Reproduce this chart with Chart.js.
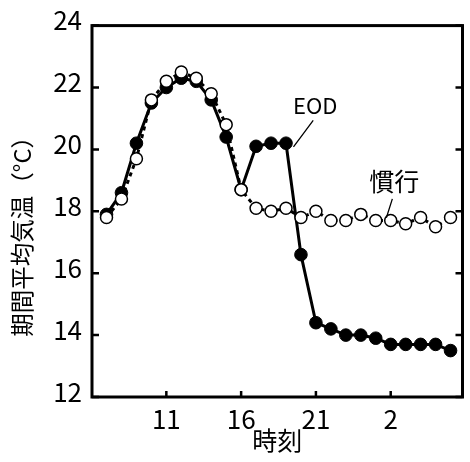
<!DOCTYPE html>
<html lang="ja">
<head>
<meta charset="utf-8">
<script src="https://cdn.jsdelivr.net/npm/chart.js@4.4.1/dist/chart.umd.min.js"></script>
<style>
  html, body { margin: 0; padding: 0; background: #fff; }
  #wrap { width: 470px; height: 462px; }
</style>
</head>
<body>
<div id="wrap"><canvas id="c" width="470" height="462"></canvas></div>
<script>
// Hour of day for each hourly mean (7 o'clock through 6 o'clock next morning)
const hours = [7, 8, 9, 10, 11, 12, 13, 14, 15, 16, 17, 18, 19, 20, 21, 22, 23, 0, 1, 2, 3, 4, 5, 6];
// Period-mean air temperature (°C), end-of-day treatment
const eodTemp = [17.9, 18.6, 20.2, 21.5, 22.0, 22.3, 22.2, 21.6, 20.4, 18.7, 20.1, 20.2, 20.2,
                 16.6, 14.4, 14.2, 14.0, 14.0, 13.9, 13.7, 13.7, 13.7, 13.7, 13.5];
// Period-mean air temperature (°C), conventional management
const conventionalTemp = [17.8, 18.4, 19.7, 21.6, 22.2, 22.5, 22.3, 21.8, 20.8, 18.7, 18.1, 18.0, 18.1,
                          17.8, 18.0, 17.7, 17.7, 17.9, 17.7, 17.7, 17.6, 17.8, 17.5, 17.8];
// Labelled hours on the time axis
const xTickHours = [11, 16, 21, 2];
// Temperature axis ticks
const yTicks = [12, 14, 16, 18, 20, 22, 24];

const yTitle = '期間平均気温（°C）';
const xTitle = '時刻';

const numFont = "'Noto Sans CJK JP', sans-serif";
const jpFont = "'Noto Sans CJK JP', sans-serif";

const toPoints = arr => arr.map((v, i) => ({ x: i, y: v }));

// Box frame, inward tick marks, the temperature-axis title and the series call-outs
const framePlugin = {
  id: 'frame',
  afterDraw(chart) {
    const { ctx, chartArea: a, scales: { x, y } } = chart;
    ctx.save();
    ctx.strokeStyle = '#000';
    ctx.lineWidth = 3;
    ctx.strokeRect(a.left, a.top, a.right - a.left, a.bottom - a.top);
    ctx.lineWidth = 2.5;
    ctx.beginPath();
    y.ticks.forEach(t => {
      const py = y.getPixelForValue(t.value);
      ctx.moveTo(a.left, py); ctx.lineTo(a.left + 7, py);
      ctx.moveTo(a.right, py); ctx.lineTo(a.right - 7, py);
    });
    x.ticks.forEach(t => {
      const px = x.getPixelForValue(t.value);
      ctx.moveTo(px, a.bottom); ctx.lineTo(px, a.bottom - 6);
    });
    ctx.stroke();

    // leader lines
    ctx.lineWidth = 1.3;
    ctx.beginPath();
    ctx.moveTo(x.getPixelForValue(12.5), y.getPixelForValue(20.08));
    ctx.lineTo(x.getPixelForValue(13.82), y.getPixelForValue(20.94));
    ctx.moveTo(x.getPixelForValue(19.11), y.getPixelForValue(18.40));
    ctx.lineTo(x.getPixelForValue(18.71), y.getPixelForValue(17.79));
    ctx.stroke();

    ctx.fillStyle = '#000';
    ctx.textAlign = 'center';
    ctx.textBaseline = 'middle';
    ctx.font = "22px " + numFont;
    ctx.fillText('EOD', x.getPixelForValue(13.95), y.getPixelForValue(21.42));
    ctx.font = "25px " + jpFont;
    ctx.fillText('慣行', x.getPixelForValue(19.24), y.getPixelForValue(18.95));

    // temperature axis title, read bottom to top
    ctx.translate(22, y.getPixelForValue(13.95));
    ctx.rotate(-Math.PI / 2);
    ctx.textAlign = 'left';
    ctx.font = "23.5px " + jpFont;
    ctx.fillText(yTitle, 0, 0);
    ctx.restore();
  }
};

new Chart(document.getElementById('c'), {
  type: 'line',
  data: {
    datasets: [
      {
        label: '慣行',
        data: toPoints(conventionalTemp),
        order: 0,
        borderColor: '#000',
        borderWidth: 3,
        borderDash: [4, 4],
        pointRadius: 6,
        pointBorderWidth: 1.5,
        pointBackgroundColor: '#fff',
        pointBorderColor: '#000',
        tension: 0
      },
      {
        label: 'EOD',
        data: toPoints(eodTemp),
        order: 1,
        borderColor: '#000',
        borderWidth: 3,
        pointRadius: 6.3,
        pointBorderWidth: 1,
        pointBackgroundColor: '#000',
        pointBorderColor: '#000',
        tension: 0
      }
    ]
  },
  options: {
    responsive: false,
    animation: false,
    devicePixelRatio: 1,
    layout: { padding: { top: 20, right: 3, left: 0, bottom: 0 } },
    plugins: { legend: { display: false }, tooltip: { enabled: false } },
    scales: {
      x: {
        type: 'linear',
        min: -0.97,
        max: 23.8,
        grid: { display: false, drawTicks: false },
        border: { display: false },
        afterFit(s) { s.height = 65; },
        afterBuildTicks(s) {
          s.ticks = xTickHours.map(h => ({ value: hours.indexOf(h) }));
        },
        ticks: {
          autoSkip: false,
          maxRotation: 0,
          padding: 7,
          color: '#000',
          font: { family: numFont, size: 26 },
          callback: v => String(hours[v])
        },
        title: {
          display: true,
          text: xTitle,
          color: '#000',
          font: { family: jpFont, size: 25 },
          padding: { top: 0, bottom: 7 }
        }
      },
      y: {
        min: 12,
        max: 24,
        grid: { display: false, drawTicks: false },
        border: { display: false },
        afterFit(s) { s.width = 92; },
        afterBuildTicks(s) {
          s.ticks = yTicks.map(v => ({ value: v }));
        },
        ticks: {
          padding: 10,
          labelOffset: -5,
          color: '#000',
          font: { family: numFont, size: 26 }
        },
        title: { display: false }
      }
    }
  },
  plugins: [framePlugin]
});
</script>
</body>
</html>
